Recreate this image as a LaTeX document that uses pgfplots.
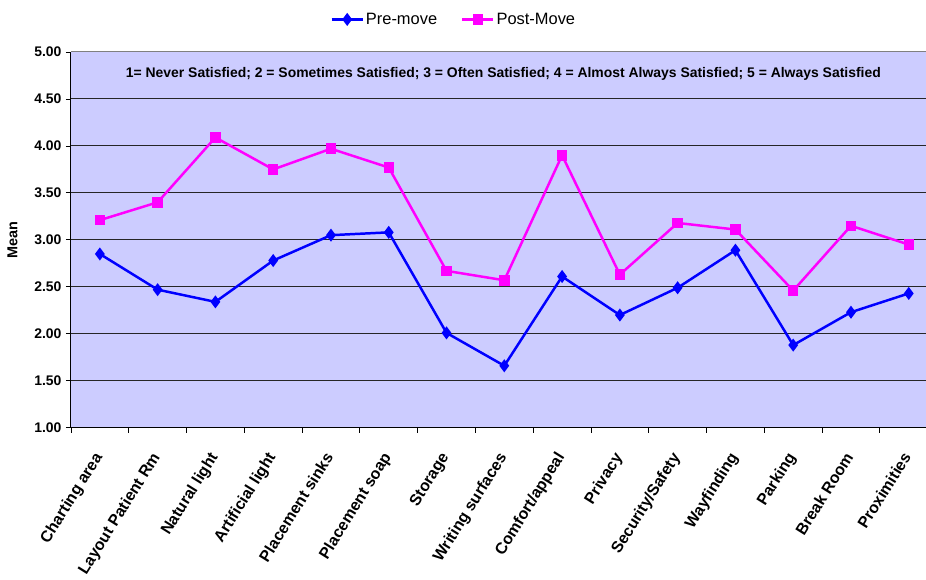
\documentclass[border=0pt]{standalone}
\usepackage{fontspec}
\setmainfont{Liberation Sans}
\usepackage{pgfplots}
\pgfplotsset{compat=1.18}

\definecolor{plotbg}{HTML}{CCCCFF}
\definecolor{preblue}{HTML}{0000FF}
\definecolor{postpink}{HTML}{FF00FF}

\begin{document}
\begin{tikzpicture}
\begin{axis}[
    at={(0,0)}, anchor=south west,
    scale only axis, width=855bp, height=376bp,
    xmin=-0.5, xmax=14.29, ymin=1, ymax=5,
    axis background/.style={fill=plotbg},
    axis x line*=bottom, axis y line*=left,
    axis line style={black, line width=1pt, -},
    ytick={1,1.5,...,4.5},
    extra y ticks={5},
    extra y tick style={grid style={gray, line width=1pt}},
    ymajorgrids,
    grid style={black!85, line width=1pt},
    /pgf/number format/.cd, fixed, fixed zerofill, precision=2, assume math mode=true,
    /pgfplots/.cd,
    ticklabel style={font=\bfseries\fontsize{14}{14}\selectfont},
    yticklabel style={xshift=-1bp},
    xtick={0,...,14},
    xticklabels={Charting area, Layout Patient Rm, Natural light, Artificial light,
        Placement sinks, Placement soap, Storage, Writing surfaces, Comfort/appeal,
        Privacy, Security/Safety, Wayfinding, Parking, Break Room, Proximities},
    xticklabel style={yshift=-18bp, xshift=-7bp, rotate=58, anchor=north east, inner sep=0pt,
        font=\bfseries\fontsize{16}{16}\selectfont},
    major x tick style={draw=none},
    minor xtick={-0.5,0.5,...,13.5},
    tick align=outside,
    major tick length=5bp, minor tick length=5bp,
    tick style={black, line width=0.8pt},
    ylabel={Mean},
    ylabel style={font=\bfseries\fontsize{14.5}{14.5}\selectfont},
    legend image code/.code={
        \draw[mark repeat=2, mark phase=2, #1]
            plot coordinates {(0bp,0bp) (15.5bp,0bp) (31bp,0bp)};},
    legend style={at={(0.448,1)}, anchor=south, yshift=22bp, legend columns=-1,
        draw=none, fill=none, font=\fontsize{16.5}{16.5}\selectfont,
        /tikz/every even column/.append style={column sep=22bp}},
]
\addplot[color=preblue, line width=2.5pt, mark=diamond*, mark size=4.5bp,
    mark options={solid}] coordinates {
    (0, 2.85) (1, 2.47) (2, 2.34) (3, 2.78) (4, 3.05) (5, 3.08) (6, 2.01)
    (7, 1.66) (8, 2.61) (9, 2.20) (10, 2.49) (11, 2.89) (12, 1.88) (13, 2.23)
    (14, 2.43)
};
\addplot[color=postpink, line width=2.5pt, mark=square*, mark size=4bp,
    mark options={solid}] coordinates {
    (0, 3.21) (1, 3.40) (2, 4.09) (3, 3.75) (4, 3.97) (5, 3.77) (6, 2.67)
    (7, 2.57) (8, 3.90) (9, 2.63) (10, 3.18) (11, 3.11) (12, 2.46) (13, 3.15)
    (14, 2.95)
};
\legend{Pre-move, Post-Move}
\node[font=\bfseries\fontsize{14}{14}\selectfont] at (rel axis cs:0.506,0.941)
    {1= Never Satisfied; 2 = Sometimes Satisfied; 3 = Often Satisfied; 4 = Almost Always Satisfied; 5 = Always Satisfied};
\end{axis}
\path[use as bounding box] (-71bp,-152bp) rectangle (855bp,428bp);
\end{tikzpicture}
\end{document}
